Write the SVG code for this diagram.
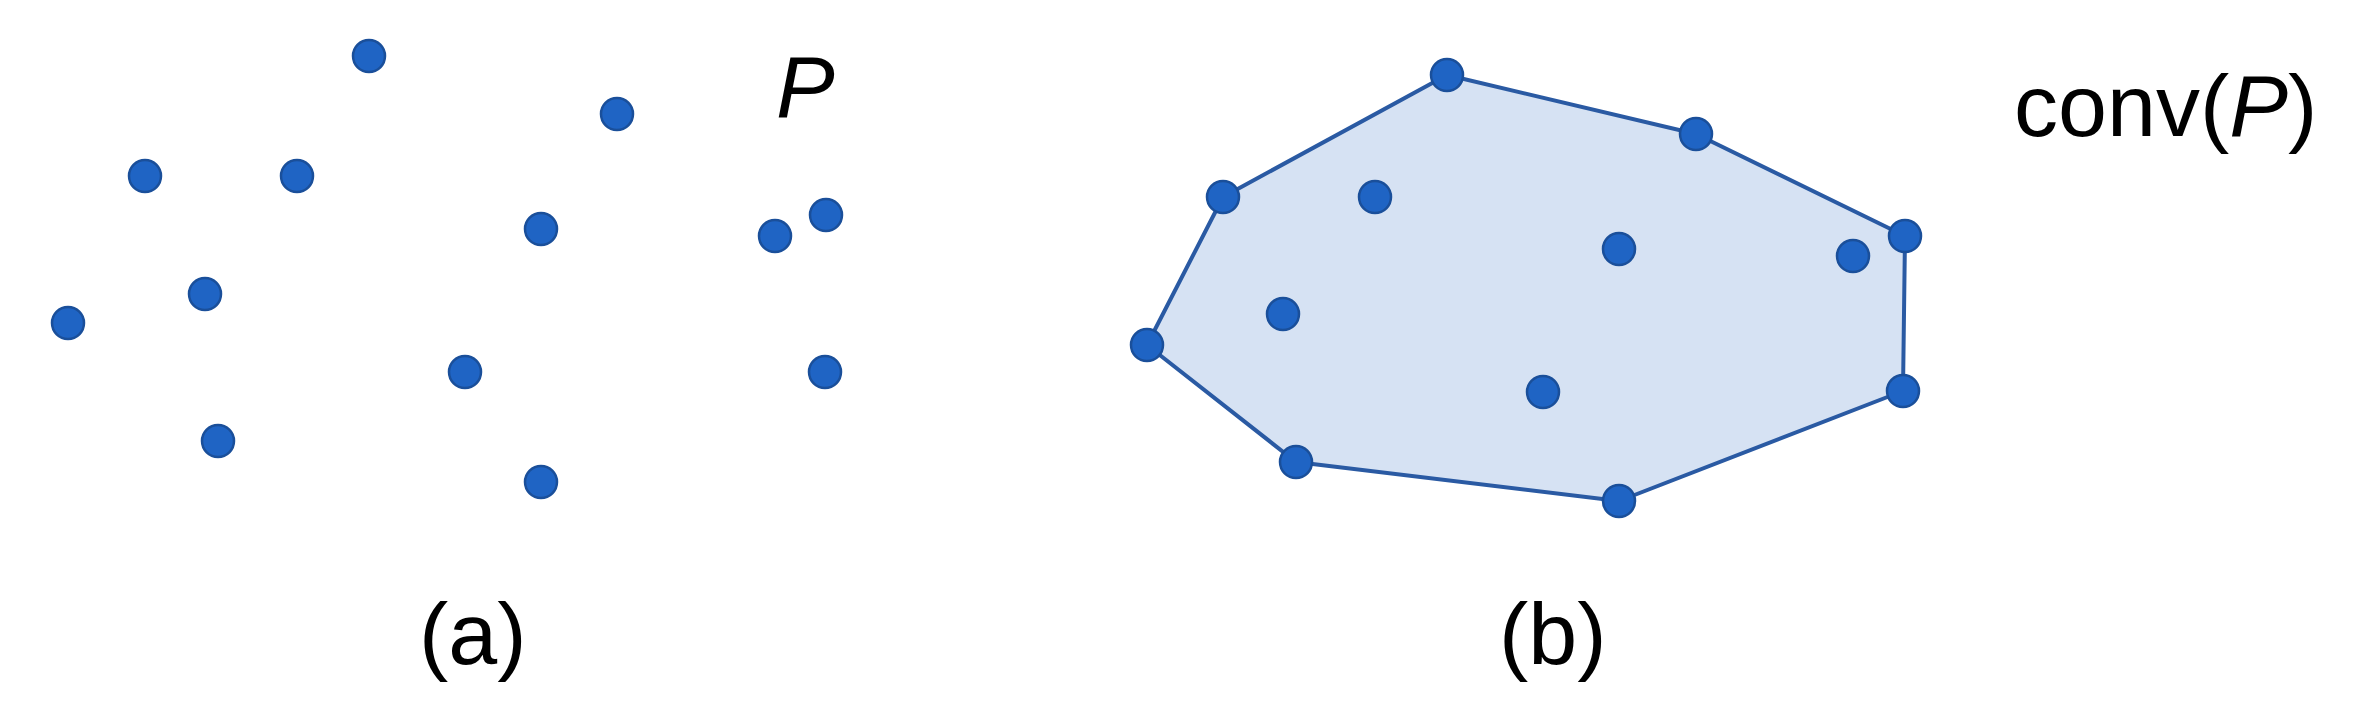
<svg xmlns="http://www.w3.org/2000/svg" width="2376" height="716" viewBox="0 0 2376 716">
<style>
.dot{fill:#1f64c4;stroke:#1a4f9a;stroke-width:2.5}
.lbl{font-family:"Liberation Sans",Arial,sans-serif;font-size:88px;fill:#000}
.it{font-style:italic}
.hull{fill:#d6e2f3;stroke:#2a5aa3;stroke-width:4;stroke-linejoin:round}
</style>
<rect width="2376" height="716" fill="#ffffff"/>
<g id="panel-a">
<g id="points-a">
<circle id="a1" class="dot" cx="369" cy="56" r="16"/>
<circle id="a2" class="dot" cx="617" cy="114" r="16"/>
<circle id="a3" class="dot" cx="145" cy="176" r="16"/>
<circle id="a4" class="dot" cx="297" cy="176" r="16"/>
<circle id="a5" class="dot" cx="541" cy="229" r="16"/>
<circle id="a6" class="dot" cx="775" cy="236" r="16"/>
<circle id="a7" class="dot" cx="826" cy="215" r="16"/>
<circle id="a8" class="dot" cx="205" cy="294" r="16"/>
<circle id="a9" class="dot" cx="68" cy="323" r="16"/>
<circle id="a10" class="dot" cx="465" cy="372" r="16"/>
<circle id="a11" class="dot" cx="825" cy="372" r="16"/>
<circle id="a12" class="dot" cx="218" cy="441" r="16"/>
<circle id="a13" class="dot" cx="541" cy="482" r="16"/>
</g>
<text id="label-P" class="lbl it" x="776" y="117">P</text>
<text id="caption-a" class="lbl" x="419" y="664">(a)</text>
</g>
<g id="panel-b">
<g id="connectors">
<polygon id="hull" class="hull" points="1447,75 1696,134 1905,236 1903,391 1619,501 1296,462 1147,345 1223,197"/>
</g>
<g id="points-b">
<circle id="b1" class="dot" cx="1447" cy="75" r="16"/>
<circle id="b2" class="dot" cx="1696" cy="134" r="16"/>
<circle id="b3" class="dot" cx="1905" cy="236" r="16"/>
<circle id="b4" class="dot" cx="1903" cy="391" r="16"/>
<circle id="b5" class="dot" cx="1619" cy="501" r="16"/>
<circle id="b6" class="dot" cx="1296" cy="462" r="16"/>
<circle id="b7" class="dot" cx="1147" cy="345" r="16"/>
<circle id="b8" class="dot" cx="1223" cy="197" r="16"/>
<circle id="b9" class="dot" cx="1375" cy="197" r="16"/>
<circle id="b10" class="dot" cx="1619" cy="249" r="16"/>
<circle id="b11" class="dot" cx="1853" cy="256" r="16"/>
<circle id="b12" class="dot" cx="1283" cy="314" r="16"/>
<circle id="b13" class="dot" cx="1543" cy="392" r="16"/>
</g>
<text id="label-conv" class="lbl" x="2014" y="136">conv(<tspan class="it">P</tspan>)</text>
<text id="caption-b" class="lbl" x="1499" y="664">(b)</text>
</g>
</svg>
